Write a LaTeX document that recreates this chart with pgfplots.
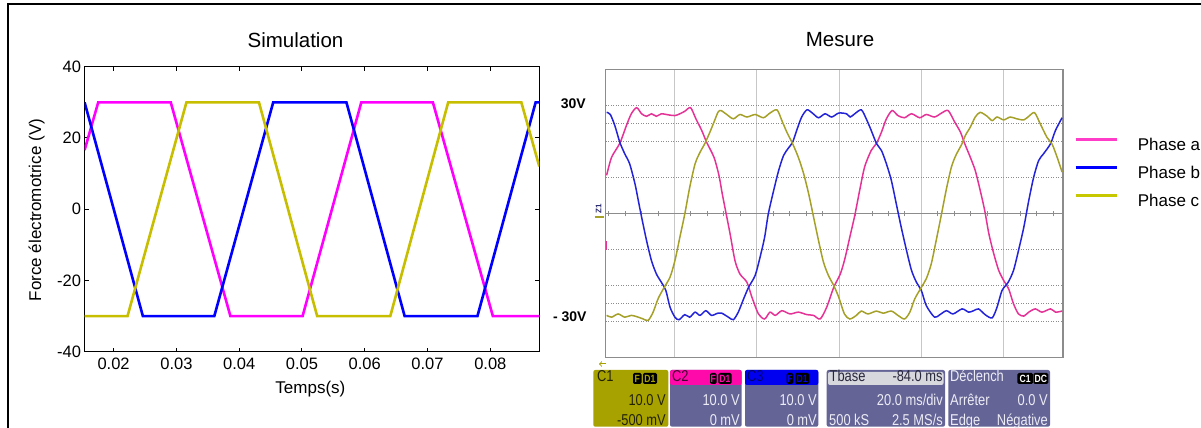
\documentclass[border=0pt]{standalone}
\usepackage{pgfplots}
\pgfplotsset{compat=1.18}
\usepackage{fontspec}
\setmainfont{Liberation Sans}
\newfontfamily\scopefont[FakeStretch=0.82]{Liberation Sans}
\definecolor{simpink}{RGB}{255,0,255}
\definecolor{simblue}{RGB}{0,0,255}
\definecolor{simyellow}{RGB}{200,190,0}
\definecolor{scpink}{RGB}{228,50,150}
\definecolor{scblue}{RGB}{35,35,215}
\definecolor{scolive}{RGB}{165,160,40}
\definecolor{legpink}{RGB}{255,60,200}
\definecolor{legblue}{RGB}{0,0,255}
\definecolor{legyellow}{RGB}{200,200,0}
\definecolor{panelbg}{RGB}{100,100,150}
\definecolor{c1bg}{RGB}{168,162,0}
\definecolor{c2hdr}{RGB}{255,10,170}
\definecolor{c3hdr}{RGB}{0,0,240}
\definecolor{tbhdr}{RGB}{215,215,222}
\definecolor{paneltext}{RGB}{236,236,246}
\newcommand{\tickfont}{\fontsize{16.5bp}{19bp}\selectfont}
\newcommand{\labfont}{\fontsize{17bp}{20bp}\selectfont}
\newcommand{\titfont}{\fontsize{20.5bp}{24bp}\selectfont}
\newcommand{\pfont}{\scopefont\fontsize{15.7bp}{17bp}\selectfont}
\newcommand{\bfont}{\scopefont\bfseries\fontsize{10.5bp}{11bp}\selectfont}
% badge: x1, x2, text, text colour
\newcommand{\badge}[4]{%
  \fill[black, rounded corners=1.5] (#1,44) rectangle (#2,55);
  \node[inner sep=0pt, text=#4, font=\bfont] at ({(#1+#2)/2},49.5) {#3};}

\pgfplotstableread{
t v
0.01538 16.6
0.01755 30
0.02910 30
0.03860 -30
0.05010 -30
0.05945 30
0.07085 30
0.08040 -30
0.08780 -30
}\simA
\pgfplotstableread{
t v
0.01538 30
0.02466 -30
0.03604 -30
0.04542 30
0.05708 30
0.06635 -30
0.07795 -30
0.08722 30
0.08780 30
}\simB
\pgfplotstableread{
t v
0.01538 -30
0.02222 -30
0.03160 30
0.04315 30
0.05242 -30
0.06407 -30
0.07329 30
0.08494 30
0.08780 12.0
}\simC

\pgfplotstableread{
t v
3.5 10.6
4.7 15.6
6.7 19.5
8.3 24.4
9.5 27.7
10.8 29.4
12.0 27.7
13.2 27.0
14.4 27.7
15.6 27.0
16.8 27.7
18.5 27.4
20.1 27.2
21.3 27.7
22.5 28.4
23.9 29.4
25.2 26.3
26.6 23.1
27.8 19.8
29.6 15.6
30.8 10.6
31.6 5.5
32.4 0.8
33.5 -5.6
34.7 -13.1
35.9 -16.8
37.6 -19.1
38.8 -23.2
40.4 -27.9
41.9 -29.3
43.2 -27.4
44.5 -28.3
46.1 -27.0
48.1 -27.9
50.1 -27.4
52.2 -28.1
53.8 -28.3
55.4 -29.3
57.0 -26.0
58.7 -20.5
60.3 -16.8
61.4 -12.6
62.6 -6.6
63.8 -0.6
65.0 6.4
66.2 12.9
67.8 17.5
69.1 19.5
70.3 22.6
71.5 26.3
72.9 28.6
74.3 27.2
75.9 26.6
77.6 27.7
79.6 26.6
81.2 27.5
83.2 26.8
84.9 27.9
86.5 28.6
88.1 25.4
89.5 22.6
90.5 19.5
91.9 15.6
93.1 11.9
94.3 6.4
95.4 0.8
96.4 -5.6
97.6 -11.2
98.8 -15.8
100.0 -18.6
101.2 -20.9
102.4 -25.1
103.6 -27.9
104.9 -28.5
106.1 -27.4
107.7 -26.5
109.3 -27.4
111.4 -26.5
112.6 -27.4
114.2 -27.1
}\scA
\pgfplotstableread{
t v
3.5 28.1
4.4 27.5
5.5 24.4
6.7 19.8
7.9 16.6
9.1 13.8
10.4 8.2
11.2 3.6
12.0 -1.0
13.2 -7.5
14.4 -13.1
15.6 -16.8
16.8 -19.1
17.9 -21.4
18.9 -26.0
20.1 -28.8
21.1 -29.5
22.5 -28.1
23.7 -28.8
25.0 -27.4
26.2 -28.3
27.6 -27.0
29.0 -28.3
30.5 -27.7
31.5 -27.7
33.1 -28.8
34.3 -29.5
35.5 -27.4
36.8 -23.7
38.0 -20.5
39.6 -17.2
40.8 -12.1
41.9 -6.6
42.8 -0.1
44.1 6.4
45.3 11.9
46.5 16.1
47.7 18.2
48.7 19.8
49.7 23.1
50.9 26.8
52.2 28.8
53.5 27.9
55.0 26.6
56.6 27.7
58.2 26.8
59.9 27.9
61.8 27.7
62.7 26.8
63.8 27.7
65.4 28.8
66.6 26.3
67.8 23.1
69.1 19.4
70.3 17.5
71.5 13.8
72.7 9.2
73.9 2.7
75.1 -3.8
76.4 -10.3
77.6 -15.8
78.8 -19.1
80.0 -21.4
81.2 -25.6
83.2 -28.8
84.5 -28.1
86.1 -27.0
87.7 -27.9
89.9 -26.5
91.5 -27.4
92.7 -27.0
93.9 -26.5
95.5 -28.1
97.2 -29.0
98.4 -26.0
99.6 -21.4
101.1 -19.1
102.4 -15.8
103.6 -10.3
104.9 -3.8
106.1 3.6
107.3 10.1
108.5 14.7
109.7 16.6
111.4 19.4
112.6 23.1
114.2 26.6
}\scB
\pgfplotstableread{
t v
3.5 -28.3
4.7 -28.8
6.3 -27.9
7.9 -28.8
9.5 -28.3
11.2 -28.8
12.4 -29.3
13.6 -29.7
14.8 -27.4
16.0 -23.7
17.3 -20.9
18.9 -17.7
20.1 -13.1
21.3 -6.6
22.5 -0.1
23.7 7.3
25.0 13.8
26.2 17.0
27.4 19.5
28.6 22.6
29.6 25.4
30.6 28.2
31.3 28.6
32.7 27.5
34.3 26.3
35.9 27.5
37.6 26.8
39.6 27.5
41.6 26.6
43.2 27.9
44.9 28.8
46.1 25.8
47.3 22.6
48.7 19.4
50.1 15.6
51.4 11.0
52.6 5.5
53.8 -1.0
55.0 -7.5
56.2 -13.5
57.4 -17.2
58.7 -20.0
59.9 -23.2
61.3 -27.9
62.6 -29.3
64.2 -28.3
65.4 -27.1
67.0 -27.9
69.1 -27.1
70.7 -27.7
72.7 -27.1
74.3 -28.3
75.9 -29.3
77.2 -27.4
78.4 -23.7
80.0 -20.5
81.2 -18.1
82.4 -14.0
83.6 -7.5
84.9 -0.1
86.1 6.9
87.3 12.9
88.4 16.2
89.8 19.2
90.7 21.7
91.9 24.0
93.1 26.8
94.3 28.1
96.0 27.0
97.2 25.8
98.4 26.8
100.0 26.0
101.6 26.8
103.2 26.3
104.9 26.0
106.1 27.0
107.5 28.0
108.9 24.9
110.5 21.2
111.8 19.2
113.0 15.6
114.2 11.5
}\scC

\begin{document}
\begin{tikzpicture}
\useasboundingbox (0,0) rectangle (1201bp,428bp);
\draw[line width=2bp] (7.5bp,0bp) -- (7.5bp,424.2bp) -- (1201bp,424.2bp);

% ---------------- Simulation ----------------
\begin{axis}[
  at={(84.6bp,76.3bp)}, anchor=south west,
  scale only axis, width=454.7bp, height=285bp,
  xmin=0.01538, xmax=0.0878, ymin=-40, ymax=40,
  xtick={0.02,0.03,0.04,0.05,0.06,0.07,0.08},
  xticklabels={0.02,0.03,0.04,0.05,0.06,0.07,0.08},
  ytick={-40,-20,0,20,40},
  yticklabels={-40,-20,0,20,40},
  scaled x ticks=false,
  tick align=inside, major tick length=4bp,
  xtick pos=both, ytick pos=both,
  axis line style={line width=1.2bp},
  tick style={line width=1bp, black},
  ticklabel style={font=\tickfont},
  xticklabel style={yshift=-3bp},
  title={Simulation},
  title style={at={(axis description cs:0.4638,1.048)}, anchor=base, font=\titfont},
  xlabel={Temps(s)},
  xlabel style={at={(axis description cs:0.4966,-0.131)}, anchor=center, font=\labfont},
  ylabel={Force électromotrice (V)},
  ylabel style={at={(axis description cs:-0.1056,0.497)}, anchor=center, font=\labfont},
  clip=true,
]
\addplot[simpink, line width=2.6bp] table[x=t,y=v] {\simA};
\addplot[simblue, line width=2.6bp] table[x=t,y=v] {\simB};
\addplot[simyellow, line width=2.6bp] table[x=t,y=v] {\simC};
\end{axis}

% ---------------- Mesure (oscilloscope) ----------------
\begin{axis}[
  at={(605.8bp,70.5bp)}, anchor=south west,
  scale only axis, width=457.1bp, height=288bp,
  xmin=3.3, xmax=114.4, ymin=-40, ymax=40,
  xtick={20,40,60,80,100}, ytick={-30,-20,-10,10,20,30},
  xticklabels={}, yticklabels={},
  major tick length=0pt,
  grid=major,
  x grid style={color=black!22, line width=1bp},
  y grid style={color=black!45, line width=0.9bp, dash pattern=on 0.9bp off 1.6bp},
  extra y ticks={-25,25}, extra y tick labels={},
  extra y tick style={grid=major, grid style={color=black!40, line width=1.3bp, dash pattern=on 1.3bp off 15.1bp}},
  axis line style={color=black!45, line width=1.3bp},
  title={Mesure},
  title style={at={(axis description cs:0.5125,1.0595)}, anchor=base, font=\titfont},
  legend style={at={(rel axis cs:1.0243,0.7615)}, anchor=north west,
    draw=none, fill=none, inner sep=0pt, font=\labfont, row sep=15.5bp,
    nodes={inner sep=0pt, text height=12bp, text depth=0bp},
    /tikz/every odd column/.append style={column sep=20bp}},
  legend cell align=left,
  legend image code/.code={\draw[#1, line width=2.6bp] (0bp,5bp) -- (41bp,5bp);},
  clip=true,
]
\addlegendimage{legpink}
\addlegendimage{legblue}
\addlegendimage{legyellow}
\legend{Phase a, Phase b, Phase c}
\draw[black!45, line width=1.8bp] (axis cs:3.3,0) -- (axis cs:114.4,0);
\pgfplotsinvokeforeach{4,8,12,16,24,28,32,36,44,48,52,56,64,68,72,76,84,88,92,96,104,108,112}{
  \draw[black!45, line width=1bp] (axis cs:#1,-0.8) -- (axis cs:#1,0.8);}
\addplot[scpink, line width=1.5bp, smooth, tension=0.45] table[x=t,y=v] {\scA};
\addplot[scblue, line width=1.5bp, smooth, tension=0.45] table[x=t,y=v] {\scB};
\addplot[scolive, line width=1.5bp, smooth, tension=0.45] table[x=t,y=v] {\scC};
\draw[scpink, line width=2bp] (axis cs:3.3,-7.6) -- (axis cs:3.3,-10.2);
\end{axis}

\begin{scope}[x=1bp, y=1bp]
% scale labels
\node[anchor=east, inner sep=0pt, font=\bfseries\fontsize{14bp}{16bp}\selectfont] at (586,324.7) {30V};
\node[anchor=east, inner sep=0pt, font=\bfseries\fontsize{14bp}{16bp}\selectfont] at (586.7,111.3) {- 30V};
% ground marker and arrow
\node[rotate=90, inner sep=0pt, text={rgb,255:red,40;green,40;blue,110}, font=\bfseries\fontsize{8bp}{9bp}\selectfont] at (598.5,219) {Z1};
\draw[scolive, line width=1.2bp] (594.5,211) -- (604,211);
\draw[c1bg, line width=1bp, ->] (606,64) -- (599,64);

% C1 panel
\fill[c1bg, rounded corners=2] (593.3,1.3) rectangle (668.3,58);
\node[anchor=base west, inner sep=0pt, font=\pfont, text={rgb,255:red,35;green,35;blue,0}] at (597,46.3) {C1};
\badge{633}{641.5}{F}{c1bg}
\badge{643}{657}{D1}{c1bg}
\node[anchor=base east, inner sep=0pt, font=\pfont, text={rgb,255:red,35;green,35;blue,0}] at (666,22.3) {10.0 V};
\node[anchor=base east, inner sep=0pt, font=\pfont, text={rgb,255:red,35;green,35;blue,0}] at (666,3) {-500 mV};

% C2 panel
\fill[panelbg, rounded corners=2] (670,1.3) rectangle (741.7,58);
\fill[c2hdr, rounded corners=2] (670,43) rectangle (741.7,58);
\node[anchor=base west, inner sep=0pt, font=\pfont, text={rgb,255:red,70;green,0;blue,50}] at (672,46.3) {C2};
\badge{710}{716.7}{F}{c2hdr}
\badge{718.3}{731.7}{D1}{c2hdr}
\node[anchor=base east, inner sep=0pt, font=\pfont, text=paneltext] at (740,22.3) {10.0 V};
\node[anchor=base east, inner sep=0pt, font=\pfont, text=paneltext] at (740,3) {0 mV};

% C3 panel
\fill[panelbg, rounded corners=2] (745,1.3) rectangle (818.3,58);
\fill[c3hdr, rounded corners=2] (745,43) rectangle (818.3,58);
\node[anchor=base west, inner sep=0pt, font=\pfont, text={rgb,255:red,0;green,0;blue,110}] at (747,46.3) {C3};
\badge{786.7}{793.3}{F}{c3hdr}
\badge{795}{809.3}{D1}{c3hdr}
\node[anchor=base east, inner sep=0pt, font=\pfont, text=paneltext] at (817,22.3) {10.0 V};
\node[anchor=base east, inner sep=0pt, font=\pfont, text=paneltext] at (817,3) {0 mV};

% Tbase panel
\fill[panelbg, rounded corners=2] (826.7,1.3) rectangle (945,58);
\fill[tbhdr, rounded corners=2] (828,43) rectangle (943.5,56);
\node[anchor=base west, inner sep=0pt, font=\pfont, text={rgb,255:red,40;green,40;blue,60}] at (829.5,46.3) {Tbase};
\node[anchor=base east, inner sep=0pt, font=\pfont, text={rgb,255:red,40;green,40;blue,60}] at (942.8,46.3) {-84.0 ms};
\node[anchor=base east, inner sep=0pt, font=\pfont, text=paneltext] at (943,22.3) {20.0 ms/div};
\node[anchor=base west, inner sep=0pt, font=\pfont, text=paneltext] at (829,3) {500 kS};
\node[anchor=base east, inner sep=0pt, font=\pfont, text=paneltext] at (943,3) {2.5 MS/s};

% Declench panel
\fill[panelbg, rounded corners=2] (948.3,1.3) rectangle (1050,58);
\node[anchor=base west, inner sep=0pt, font=\pfont, text=paneltext] at (950,46.3) {Déclench};
\badge{1017.3}{1033.1}{C1}{white}
\badge{1033.5}{1048.3}{DC}{white}
\node[anchor=base west, inner sep=0pt, font=\pfont, text=paneltext] at (950,22.3) {Arrêter};
\node[anchor=base east, inner sep=0pt, font=\pfont, text=paneltext] at (1048,22.3) {0.0 V};
\node[anchor=base west, inner sep=0pt, font=\pfont, text=paneltext] at (950,3) {Edge};
\node[anchor=base east, inner sep=0pt, font=\pfont, text=paneltext] at (1048,3) {Négative};
\end{scope}
\end{tikzpicture}
\end{document}
